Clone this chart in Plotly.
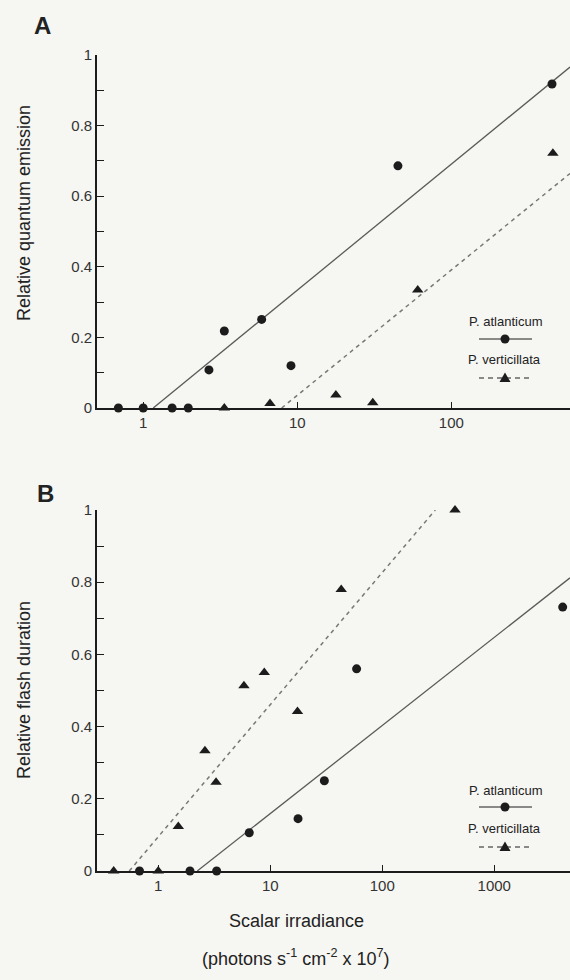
import numpy as np
import plotly.graph_objects as go

# ---------------- data ----------------
# Panel A: relative quantum emission
a_atl_x = [0.69, 1.0, 1.54, 1.96, 2.67, 3.36, 5.87, 9.1, 45, 450]
a_atl_y = [0, 0, 0, 0, 0.108, 0.218, 0.251, 0.12, 0.686, 0.918]
a_ver_x = [3.36, 6.65, 17.8, 30.9, 60.5, 456]
a_ver_y = [0, 0.013, 0.037, 0.015, 0.334, 0.722]

# Panel B: relative flash duration
b_atl_x = [0.68, 1.92, 3.32, 6.49, 17.7, 30.4, 59, 4080]
b_atl_y = [0, 0, 0, 0.106, 0.145, 0.25, 0.56, 0.731]
b_ver_x = [0.40, 1.0, 1.51, 2.61, 3.28, 5.82, 8.84, 17.5, 43, 446]
b_ver_y = [0, 0, 0.123, 0.333, 0.246, 0.513, 0.55, 0.442, 0.78, 1.0]

# regression lines: y = intercept + slope*log10(x)
a_atl_fit = dict(slope=0.357, intercept=-0.0232)
a_ver_fit = dict(slope=0.355, intercept=-0.319)
b_atl_fit = dict(slope=0.244, intercept=-0.0849)
b_ver_fit = dict(slope=0.366, intercept=0.0948)

a_xticks = [1, 10, 100]
b_xticks = [1, 10, 100, 1000]
y_ticks = [0, 0.2, 0.4, 0.6, 0.8, 1]
y_ticklabels = ["0", "0.2", "0.4", "0.6", "0.8", "1"]

series_names = ["P. atlanticum", "P. verticillata"]

# ---------------- layout constants ----------------
W, H = 570, 980
L, R = 97, 0
BG = "#f6f6f2"
INK = "#1c1c1c"
LINE = "#5a5a5a"
FONT = "Liberation Sans, Arial, Helvetica, sans-serif"

a_xrange = [-0.30, 2.77]
b_xrange = [-0.547, 3.676]

def px2paper_x(px):
    return (px - L) / (W - L - R)

def px2paper_y(py):
    return 1 - py / H

def fit_line(fit, xrange):
    lo = -fit["intercept"] / fit["slope"]
    hi = min(xrange[1], (1 - fit["intercept"]) / fit["slope"])
    lx = np.linspace(lo, hi, 50)
    return 10 ** lx, fit["intercept"] + fit["slope"] * lx

fig = go.Figure()

def add_panel(xa, ya, atl_x, atl_y, ver_x, ver_y, atl_fit, ver_fit, xrange):
    fx, fy = fit_line(atl_fit, xrange)
    fig.add_trace(go.Scatter(x=fx, y=fy, mode="lines", xaxis=xa, yaxis=ya,
                             line=dict(color=LINE, width=1.3), showlegend=False,
                             cliponaxis=False, hoverinfo="skip"))
    fx, fy = fit_line(ver_fit, xrange)
    fig.add_trace(go.Scatter(x=fx, y=fy, mode="lines", xaxis=xa, yaxis=ya,
                             line=dict(color="#777777", width=1.5, dash="4px,4px"),
                             showlegend=False, cliponaxis=False, hoverinfo="skip"))
    fig.add_trace(go.Scatter(x=atl_x, y=atl_y, mode="markers", xaxis=xa, yaxis=ya,
                             name=series_names[0], showlegend=False, cliponaxis=False,
                             marker=dict(symbol="circle", size=9, color=INK)))
    fig.add_trace(go.Scatter(x=ver_x, y=ver_y, mode="markers", xaxis=xa, yaxis=ya,
                             name=series_names[1], showlegend=False, cliponaxis=False,
                             marker=dict(symbol="triangle-up", size=10, color=INK)))

add_panel("x", "y", a_atl_x, a_atl_y, a_ver_x, a_ver_y, a_atl_fit, a_ver_fit, a_xrange)
add_panel("x2", "y2", b_atl_x, b_atl_y, b_ver_x, b_ver_y, b_atl_fit, b_ver_fit, b_xrange)

tickfont = dict(family=FONT, size=15, color="#333333")

def xaxis_cfg(rng, ticks, anchor):
    return dict(type="log", range=rng, tickvals=ticks, ticktext=[str(t) for t in ticks],
                ticks="inside", ticklen=6, tickwidth=1.2, tickcolor=INK,
                showline=True, linecolor=INK, linewidth=1.6, showgrid=False,
                zeroline=False, tickfont=tickfont, anchor=anchor, automargin=False,
                domain=[0, 1])

def yaxis_cfg(top_px, bottom_px, anchor):
    return dict(range=[0, 1], tickvals=y_ticks, ticktext=y_ticklabels,
                ticks="inside", ticklen=7, tickwidth=1.2, tickcolor=INK,
                minor=dict(dtick=0.1, tick0=0, ticks="inside", ticklen=7, tickwidth=1.2,
                           tickcolor=INK, showgrid=False),
                showline=True, linecolor=INK, linewidth=1.6, showgrid=False,
                zeroline=False, tickfont=tickfont, anchor=anchor, automargin=False,
                domain=[px2paper_y(bottom_px), px2paper_y(top_px)])

fig.update_layout(
    width=W, height=H,
    margin=dict(l=L, r=R, t=0, b=0),
    paper_bgcolor=BG, plot_bgcolor=BG,
    font=dict(family=FONT, color="#222222"),
    xaxis=xaxis_cfg(a_xrange, a_xticks, "y"),
    yaxis=yaxis_cfg(55, 408, "x"),
    xaxis2=xaxis_cfg(b_xrange, b_xticks, "y2"),
    yaxis2=yaxis_cfg(510, 871, "x2"),
    showlegend=False,
)

# legend keys (text above, line sample with marker below)
shapes = []
legend_spots = [(322, 339, 360, 378), (790, 807, 828, 847)]
for t1, l1, t2, l2 in legend_spots:
    shapes.append(dict(type="line", xref="paper", yref="paper",
                       x0=px2paper_x(479), x1=px2paper_x(532),
                       y0=px2paper_y(l1), y1=px2paper_y(l1),
                       line=dict(color=INK, width=1.2)))
    r = 4.5
    shapes.append(dict(type="circle", xref="paper", yref="paper",
                       x0=px2paper_x(505 - r), x1=px2paper_x(505 + r),
                       y0=px2paper_y(l1 + r), y1=px2paper_y(l1 - r),
                       fillcolor=INK, line=dict(color=INK, width=0)))
    shapes.append(dict(type="line", xref="paper", yref="paper",
                       x0=px2paper_x(479), x1=px2paper_x(533),
                       y0=px2paper_y(l2), y1=px2paper_y(l2),
                       line=dict(color=INK, width=1.2, dash="5px,4px")))
    pts = [(505, l2 - 5.5), (510.5, l2 + 4), (499.5, l2 + 4)]
    path = "M " + " L ".join(f"{px2paper_x(a):.5f},{px2paper_y(b):.5f}" for a, b in pts) + " Z"
    shapes.append(dict(type="path", xref="paper", yref="paper", path=path,
                       fillcolor=INK, line=dict(color=INK, width=0)))
fig.update_layout(shapes=shapes)

ann = []
def txt(x, y, s, size, **kw):
    d = dict(x=px2paper_x(x), y=px2paper_y(y), xref="paper", yref="paper", text=s,
             showarrow=False, font=dict(family=FONT, size=size, color="#222222"),
             xanchor="center", yanchor="middle")
    d.update(kw)
    ann.append(d)

txt(42, 26, "<b>A</b>", 24)
txt(45, 493, "<b>B</b>", 24)
txt(24, 213, "Relative quantum emission", 18, textangle=-90)
txt(24, 690, "Relative flash duration", 18, textangle=-90)
for (t1, l1, t2, l2) in legend_spots:
    txt(505, t1, series_names[0], 13)
    txt(504, t2, series_names[1], 13)
txt(296, 921, "Scalar irradiance", 18)
txt(296, 957, "(photons s<sup>-1</sup> cm<sup>-2</sup> x 10<sup>7</sup>)", 18)
fig.update_layout(annotations=ann)

fig.write_html("out.html", config={"displayModeBar": False},
               post_script="document.body.style.margin='0';document.body.style.padding='0';")
